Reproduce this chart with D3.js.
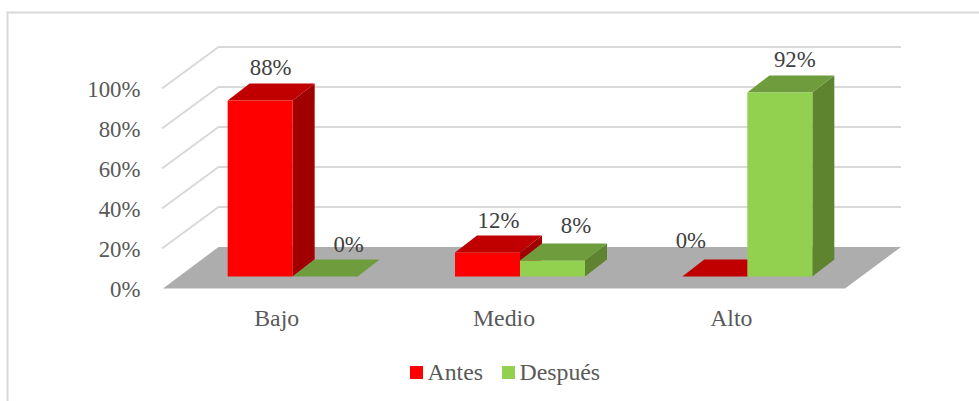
<!DOCTYPE html>
<html><head><meta charset="utf-8">
<script src="https://cdn.jsdelivr.net/npm/d3@7/dist/d3.min.js"></script>
<style>html,body{margin:0;padding:0;background:#fff}svg{display:block}text{font-family:"Liberation Serif","Times New Roman",serif}</style>
</head><body><svg id="c" width="979" height="401"></svg>
<script>
const categories = ["Bajo", "Medio", "Alto"];
const antes = [88, 12, 0];
const despues = [0, 8, 92];
const seriesNames = ["Antes", "Después"];
const tickValues = [0, 20, 40, 60, 80, 100];

const svg = d3.select("#c");
const depthX = 55.5, depthY = -41.5;       // wall / floor depth
const barDepthX = 22, barDepthY = -17;     // bar depth
const barW = 65;
const xFront = d3.scaleBand().domain(categories).range([163, 845]);
const yAxisScale = d3.scaleLinear().domain([0, 100]).range([288.5, 88.5]);
const yBar = d3.scaleLinear().domain([0, 100]).range([276.5, 76.5]);
const colors = {
  Antes: {front: "#ff0000", top: "#c00000", side: "#a00000"},
  "Después": {front: "#92d050", top: "#6f9c3c", side: "#5f8430"}
};
const poly = pts => pts.map(p => p.join(",")).join(" ");

// outer frame
svg.append("path").attr("d", "M7.5,401V12.5H979").attr("fill", "none").attr("stroke", "#d9d9d9").attr("stroke-width", 2);

// gridlines
const x0 = xFront.range()[0], x1 = xFront.range()[1];
svg.append("g").selectAll("polyline").data(tickValues.filter(t => t > 0)).join("polyline")
  .attr("points", t => { const y = yAxisScale(t); return poly([[x0 - 1, y], [x0 + depthX, y + depthY], [x1 + depthX + .5, y + depthY]]); })
  .attr("fill", "none").attr("stroke", "#d9d9d9").attr("stroke-width", 2);

// floor
const yz = yAxisScale(0);
svg.append("polygon")
  .attr("points", poly([[x0, yz], [x0 + depthX, yz + depthY], [x1 + depthX + .5, yz + depthY], [x1, yz]]))
  .attr("fill", "#adadad");

// bars
const rows = [];
categories.forEach((c, i) => {
  const mid = xFront(c) + xFront.bandwidth() / 2 + 16;
  rows.push({c, i, s: seriesNames[0], v: antes[i], x: mid - barW});
  rows.push({c, i, s: seriesNames[1], v: despues[i], x: mid});
});
const bars = svg.append("g").selectAll("g").data(rows).join("g");
bars.append("polygon").attr("fill", d => colors[d.s].side)
  .attr("points", d => { const x = d.x + barW, t = yBar(d.v), b = yBar(0);
    return poly([[x, t], [x + barDepthX, t + barDepthY], [x + barDepthX, b + barDepthY], [x, b]]); });
bars.append("polygon").attr("fill", d => colors[d.s].top)
  .attr("points", d => { const t = yBar(d.v);
    return poly([[d.x, t], [d.x + barDepthX, t + barDepthY], [d.x + barW + barDepthX, t + barDepthY], [d.x + barW, t]]); });
bars.append("rect").attr("fill", d => colors[d.s].front)
  .attr("x", d => d.x).attr("y", d => yBar(d.v)).attr("width", barW).attr("height", d => yBar(0) - yBar(d.v));

// axes
const serif = '"Liberation Serif",serif';
const ya = svg.append("g").attr("transform", "translate(140.5,1)")
  .call(d3.axisLeft(yAxisScale).tickValues(tickValues).tickFormat(d => d + "%").tickSize(0).tickPadding(0));
ya.select(".domain").remove();
ya.selectAll("text").attr("fill", "#595959").style("font-size", "22.8px").style("font-family", serif);
const xa = svg.append("g").attr("transform", "translate(0,309)")
  .call(d3.axisBottom(xFront).tickSize(0).tickPadding(0));
xa.select(".domain").remove();
xa.selectAll("text").attr("fill", "#595959").style("font-size", "23.8px").style("font-family", serif);

// data labels, with per-label placement as in the reference
const nudges = [[10.5, 75], [23.5, 252], [11, 228], [23.5, 233], [-24, 248], [15, 67]];
svg.append("g").selectAll("text").data(rows).join("text")
  .attr("text-anchor", "middle").attr("fill", "#404040").style("font-size", "22.8px")
  .attr("x", (d, i) => d.x + barW / 2 + nudges[i][0]).attr("y", (d, i) => nudges[i][1])
  .text(d => d.v + "%");

// legend
const legendX = [410, 502];
const lg = svg.append("g").selectAll("g").data(seriesNames).join("g").attr("transform", (d, i) => `translate(${legendX[i]},366)`);
lg.append("rect").attr("width", 13).attr("height", 13).attr("fill", d => colors[d].front);
lg.append("text").attr("x", 17.5).attr("y", 14).attr("fill", "#595959").style("font-size", "23.8px").text(d => d);
</script></body></html>
